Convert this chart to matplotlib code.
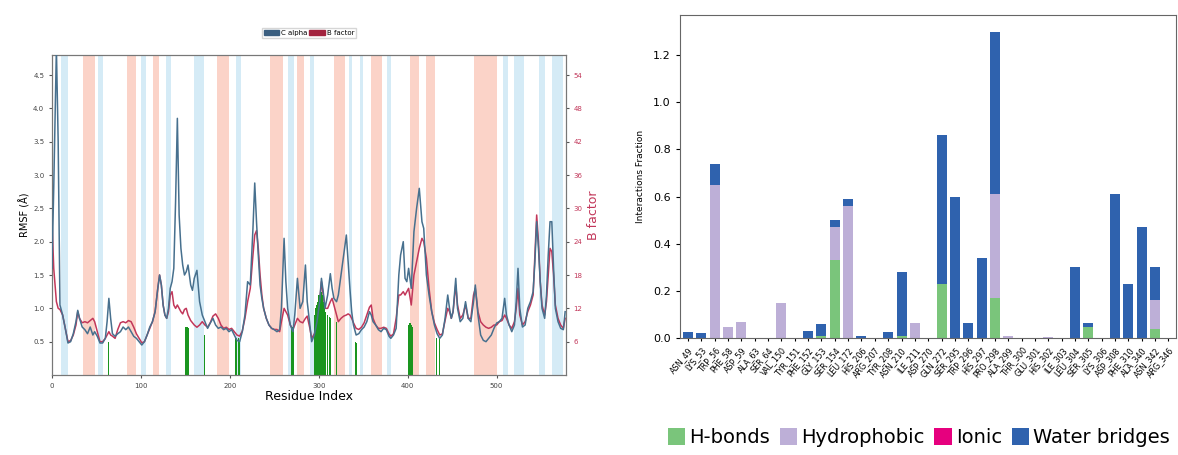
import numpy as np
import matplotlib
matplotlib.use("Agg")
import matplotlib.pyplot as plt
from matplotlib.patches import Patch

# left panel: RMSF per residue (C alpha) and B factor
res = [0, 2, 5, 7, 9, 12, 15, 18, 21, 24, 27, 29, 31, 34, 37, 40, 43, 46, 48, 51,
       54, 57, 60, 62, 64, 66, 68, 71, 74, 77, 80, 83, 86, 89, 92, 95, 98, 101, 104, 107,
       110, 113, 116, 119, 121, 123, 125, 127, 129, 131, 133, 135, 137, 139, 141, 143, 145, 147, 149, 151,
       153, 156, 158, 160, 163, 166, 169, 172, 175, 178, 181, 184, 187, 190, 193, 196, 199, 202, 205, 208,
       211, 214, 217, 220, 223, 226, 228, 230, 232, 234, 236, 238, 241, 244, 247, 250, 253, 256, 258, 261,
       263, 265, 268, 271, 273, 276, 279, 282, 285, 287, 290, 292, 295, 298, 301, 303, 305, 307, 310, 313,
       315, 317, 320, 322, 325, 328, 331, 333, 335, 337, 339, 342, 345, 348, 351, 354, 357, 359, 361, 364,
       367, 370, 373, 376, 379, 381, 384, 387, 390, 392, 395, 397, 399, 401, 404, 407, 410, 413, 416, 418,
       421, 424, 427, 430, 433, 436, 439, 442, 445, 447, 449, 451, 454, 456, 459, 462, 465, 468, 471, 474,
       476, 479, 482, 485, 488, 491, 494, 497, 500, 503, 506, 509, 511, 514, 517, 520, 522, 524, 526, 529,
       532, 535, 538, 541, 543, 545, 547, 549, 551, 554, 556, 558, 560, 562, 564, 566, 569, 572, 575, 577]
rmsf_ca = [1.6, 2.8, 4.9, 3.5, 1.05, 0.9, 0.7, 0.48, 0.5, 0.62, 0.8, 0.97, 0.85, 0.72, 0.68, 0.62, 0.72, 0.6, 0.65, 0.58,
           0.48, 0.48, 0.55, 0.8, 1.15, 0.85, 0.62, 0.58, 0.62, 0.65, 0.72, 0.68, 0.72, 0.65, 0.58, 0.55, 0.5, 0.45, 0.5, 0.6,
           0.72, 0.8, 0.95, 1.3, 1.5, 1.35, 1.05, 0.9, 0.85, 1.0, 1.3, 1.4, 1.6, 2.6, 3.85, 2.4, 1.9, 1.65, 1.5, 1.55,
           1.65, 1.35, 1.27, 1.45, 1.57, 1.1, 0.9, 0.8, 0.7, 0.78, 0.85, 0.75, 0.7, 0.72, 0.68, 0.7, 0.65, 0.68, 0.6, 0.52,
           0.5, 0.65, 0.9, 1.4, 1.35, 2.2, 2.88, 2.3, 1.8, 1.35, 1.15, 1.0, 0.85, 0.75, 0.7, 0.68, 0.65, 0.68, 1.0, 2.05,
           1.4, 1.0, 0.75, 0.65, 0.9, 1.45, 1.0, 1.1, 1.65, 1.1, 0.75, 0.5, 0.6, 0.8, 1.1, 1.45, 1.25, 1.0, 1.2, 1.52,
           1.3, 1.15, 1.1, 1.2, 1.5, 1.8, 2.1, 1.7, 1.3, 0.95, 0.75, 0.6, 0.62, 0.68, 0.72, 0.8, 0.95, 0.9, 0.8, 0.75,
           0.68, 0.65, 0.7, 0.68, 0.58, 0.55, 0.6, 0.7, 1.5, 1.8, 2.0, 1.45, 1.4, 1.6, 1.3, 2.15, 2.5, 2.8, 2.3, 2.2,
           1.5, 1.2, 0.95, 0.75, 0.62, 0.55, 0.6, 0.85, 1.2, 1.0, 0.85, 0.95, 1.45, 1.0, 0.8, 0.85, 1.1, 0.85, 0.8, 1.1,
           1.35, 0.9, 0.6, 0.52, 0.5, 0.55, 0.6, 0.7, 0.78, 0.8, 0.85, 1.15, 0.9, 0.75, 0.65, 0.75, 1.1, 1.6, 1.0, 0.72,
           0.75, 1.0, 1.1, 1.25, 1.7, 2.3, 1.9, 1.4, 1.0, 0.85, 1.2, 1.8, 2.3, 2.3, 1.6, 1.0, 0.8, 0.7, 0.68, 0.95]
bfactor = [28.2, 19.2, 13.2, 12.0, 11.8, 10.8, 8.4, 6.0, 6.2, 7.2, 9.0, 11.4, 10.2, 9.4, 9.6, 9.4, 9.8, 10.2, 9.6, 7.8,
           6.0, 6.0, 6.6, 7.2, 7.8, 7.2, 7.0, 6.6, 8.2, 9.4, 9.6, 9.4, 9.8, 9.6, 8.6, 7.4, 6.6, 5.8, 6.0, 7.2,
           8.4, 9.6, 11.4, 15.6, 18.0, 16.2, 12.6, 10.8, 10.2, 11.4, 14.4, 15.0, 12.6, 12.0, 12.6, 12.0, 11.4, 11.0, 11.8, 12.0,
           10.8, 9.8, 9.4, 9.0, 8.6, 9.0, 9.6, 9.0, 8.6, 9.4, 10.6, 11.0, 10.2, 9.0, 8.4, 8.6, 8.2, 8.4, 7.8, 7.2,
           7.0, 7.9, 10.2, 13.2, 15.6, 21.6, 25.2, 26.0, 22.8, 18.0, 14.4, 12.0, 10.2, 9.0, 8.4, 8.2, 8.2, 7.8, 9.6, 12.0,
           11.4, 10.8, 9.0, 8.2, 9.0, 10.2, 9.6, 9.4, 10.2, 10.6, 8.4, 6.6, 7.4, 9.4, 13.2, 16.8, 14.4, 12.0, 12.0, 13.2,
           13.8, 12.6, 10.8, 9.6, 10.2, 10.6, 10.8, 11.0, 10.8, 10.2, 9.4, 8.4, 8.2, 8.6, 9.4, 10.8, 12.2, 12.6, 10.2, 9.0,
           8.4, 8.4, 8.6, 8.4, 7.4, 7.0, 7.4, 10.2, 14.4, 14.4, 15.0, 14.4, 15.0, 15.6, 12.6, 18.0, 20.4, 22.8, 24.6, 24.0,
           21.0, 15.6, 11.4, 9.4, 8.2, 7.2, 7.4, 9.8, 12.0, 11.4, 10.2, 11.4, 16.2, 12.6, 10.2, 10.8, 12.6, 10.2, 10.2, 14.4,
           15.6, 11.4, 9.6, 9.0, 8.6, 8.4, 8.6, 9.0, 9.0, 9.6, 9.8, 10.8, 10.2, 9.0, 8.4, 9.6, 12.0, 15.6, 10.8, 9.0,
           9.6, 11.4, 12.6, 14.4, 21.6, 28.8, 24.0, 16.8, 12.6, 10.8, 13.2, 18.0, 22.8, 22.2, 18.0, 12.6, 10.2, 9.0, 8.4, 10.2]

helix_start = [35, 84, 114, 186, 245, 275, 317, 359, 403, 420, 474]
helix_end = [48, 95, 120, 199, 260, 283, 330, 371, 413, 431, 500]
strand_start = [10, 52, 100, 128, 160, 207, 265, 290, 334, 346, 377, 507, 519, 548, 562]
strand_end = [18, 57, 106, 134, 171, 212, 272, 295, 337, 350, 381, 513, 531, 554, 575]

contact_res = [63, 64, 150, 151, 152, 153, 154, 172, 206, 207, 208, 210, 211, 269, 270, 272,
               295, 296, 297, 298, 299, 300, 301, 302, 303, 304, 305, 306, 308, 310, 312, 313,
               320, 341, 342, 343, 401, 402, 403, 404, 405, 432, 436]
contact_h = [0.55, 0.5, 0.72, 0.72, 0.72, 0.72, 0.7, 0.6, 0.55, 0.55, 0.55, 0.55, 0.5, 0.7, 0.72, 0.72,
             0.9, 1.0, 1.05, 1.1, 1.1, 1.2, 1.2, 1.2, 1.25, 1.2, 1.1, 1.0, 0.95, 0.9, 0.87, 0.85,
             0.8, 0.5, 0.48, 0.5, 0.75, 0.78, 0.78, 0.75, 0.72, 0.55, 0.55]

# right panel: protein-ligand contacts
labels = ["ASN_49", "LYS_53", "TRP_56", "PHE_58", "ASP_59", "ALA_63", "SER_64", "VAL_150", "TYR_151",
          "PHE_152", "GLY_153", "SER_154", "LEU_172", "HIS_206", "ARG_207", "TYR_208", "ASN_210", "ILE_211",
          "ASP_270", "GLN_272", "SER_295", "TRP_296", "HIS_297", "PRO_298", "ALA_299", "THR_300", "GLU_301",
          "HIS_302", "ILE_303", "LEU_304", "SER_305", "LYS_306", "ASP_308", "PHE_310", "ALA_340", "ASN_342",
          "ARG_346"]
hbonds = [0, 0, 0, 0, 0, 0, 0, 0, 0, 0, 0.01, 0.33, 0, 0, 0, 0, 0.01, 0, 0, 0.23, 0, 0, 0, 0.17, 0,
          0, 0, 0, 0, 0, 0.045, 0, 0, 0, 0, 0.04, 0]
hydrophobic = [0, 0, 0.65, 0.045, 0.07, 0, 0, 0.15, 0, 0, 0, 0.14, 0.56, 0, 0, 0, 0, 0.065, 0, 0, 0, 0, 0, 0.44, 0.01,
               0, 0, 0.005, 0, 0, 0, 0, 0, 0, 0, 0.12, 0]
ionic = [0] * 37
water = [0.025, 0.02, 0.09, 0, 0, 0, 0, 0, 0, 0.03, 0.05, 0.03, 0.03, 0.01, 0, 0.025, 0.27, 0, 0, 0.63, 0.6, 0.065,
         0.34, 0.69, 0, 0, 0, 0, 0, 0.3, 0.02, 0, 0.61, 0.23, 0.47, 0.14, 0]

fig = plt.figure(figsize=(11.78, 4.55), dpi=100)

ax1 = fig.add_axes([0.0441, 0.1758, 0.4364, 0.7033])
ax2 = ax1.twinx()

# secondary structure bands go on the lower (B factor) axes
for a, b in zip(helix_start, helix_end):
    ax2.axvspan(a, b, color="#fbd3c8", lw=0, zorder=0)
for a, b in zip(strand_start, strand_end):
    ax2.axvspan(a, b, color="#d5ebf6", lw=0, zorder=0)
ax2.plot(res, bfactor, color="#c2375a", lw=1.1, zorder=2)
ax2.set_ylim(0, 57.6)
ax2.set_yticks(np.arange(6, 55, 6))
ax2.tick_params(labelsize=5, length=2, color="#555555", labelcolor="#c2375a")
ax2.set_ylabel("B factor", fontsize=9, color="#c2375a", labelpad=3)
for s in ax2.spines.values():
    s.set_color("#777777")

ax1.bar(contact_res, contact_h, width=1.0, color="#1a951f", lw=0, zorder=1)
ax1.plot(res, rmsf_ca, color="#47708e", lw=1.1, zorder=3)
ax1.set_xlim(0, 578)
ax1.set_ylim(0, 4.8)
ax1.set_yticks(np.arange(0.5, 4.6, 0.5))
ax1.set_xticks([0, 100, 200, 300, 400, 500])
ax1.tick_params(labelsize=5, length=2, color="#555555", labelcolor="#444444")
ax1.set_ylabel("RMSF (Å)", fontsize=7, labelpad=2)
ax1.set_xlabel("Residue Index", fontsize=9, labelpad=1)
for s in ax1.spines.values():
    s.set_color("#777777")
ax1.set_zorder(ax2.get_zorder() + 1)
ax1.patch.set_visible(False)

ax1.legend(handles=[Patch(color="#3b5f80", label="C alpha"), Patch(color="#a3243f", label="B factor")],
           loc="center", bbox_to_anchor=(0.5, 1.07), ncol=2, fontsize=5, handlelength=2.2,
           handletextpad=0.3, columnspacing=0.3, borderpad=0.3, fancybox=False, edgecolor="#cccccc")

ax3 = fig.add_axes([0.5772, 0.257, 0.4215, 0.71])
x = np.arange(len(labels))
w = 0.75
b1 = np.array(hbonds)
b2 = b1 + np.array(hydrophobic)
b3 = b2 + np.array(ionic)
ax3.bar(x, hbonds, w, color="#7ac57b", label="H-bonds")
ax3.bar(x, hydrophobic, w, bottom=b1, color="#bdafd7", label="Hydrophobic")
ax3.bar(x, ionic, w, bottom=b2, color="#e6007e", label="Ionic")
ax3.bar(x, water, w, bottom=b3, color="#2f62ae", label="Water bridges")
ax3.set_xlim(-0.6, len(labels) - 0.4)
ax3.set_ylim(0, 1.37)
ax3.set_yticks(np.arange(0, 1.21, 0.2))
ax3.set_yticklabels(["%.1f" % v for v in np.arange(0, 1.21, 0.2)])
ax3.set_xticks(x)
ax3.set_xticklabels(labels, rotation=50, ha="right", rotation_mode="anchor", fontsize=5.8)
ax3.tick_params(axis="y", labelsize=8, length=3)
ax3.tick_params(axis="x", length=2)
ax3.set_ylabel("Interactions Fraction", fontsize=6.5, labelpad=6)
for s in ax3.spines.values():
    s.set_color("#666666")

h, l = ax3.get_legend_handles_labels()
fig.legend(h, l, loc="center", bbox_to_anchor=(0.78, 0.038), ncol=4, frameon=False, fontsize=14,
           handlelength=0.9, handleheight=0.9, handletextpad=0.2, columnspacing=0.5)

fig.savefig("out.png", dpi=100)
